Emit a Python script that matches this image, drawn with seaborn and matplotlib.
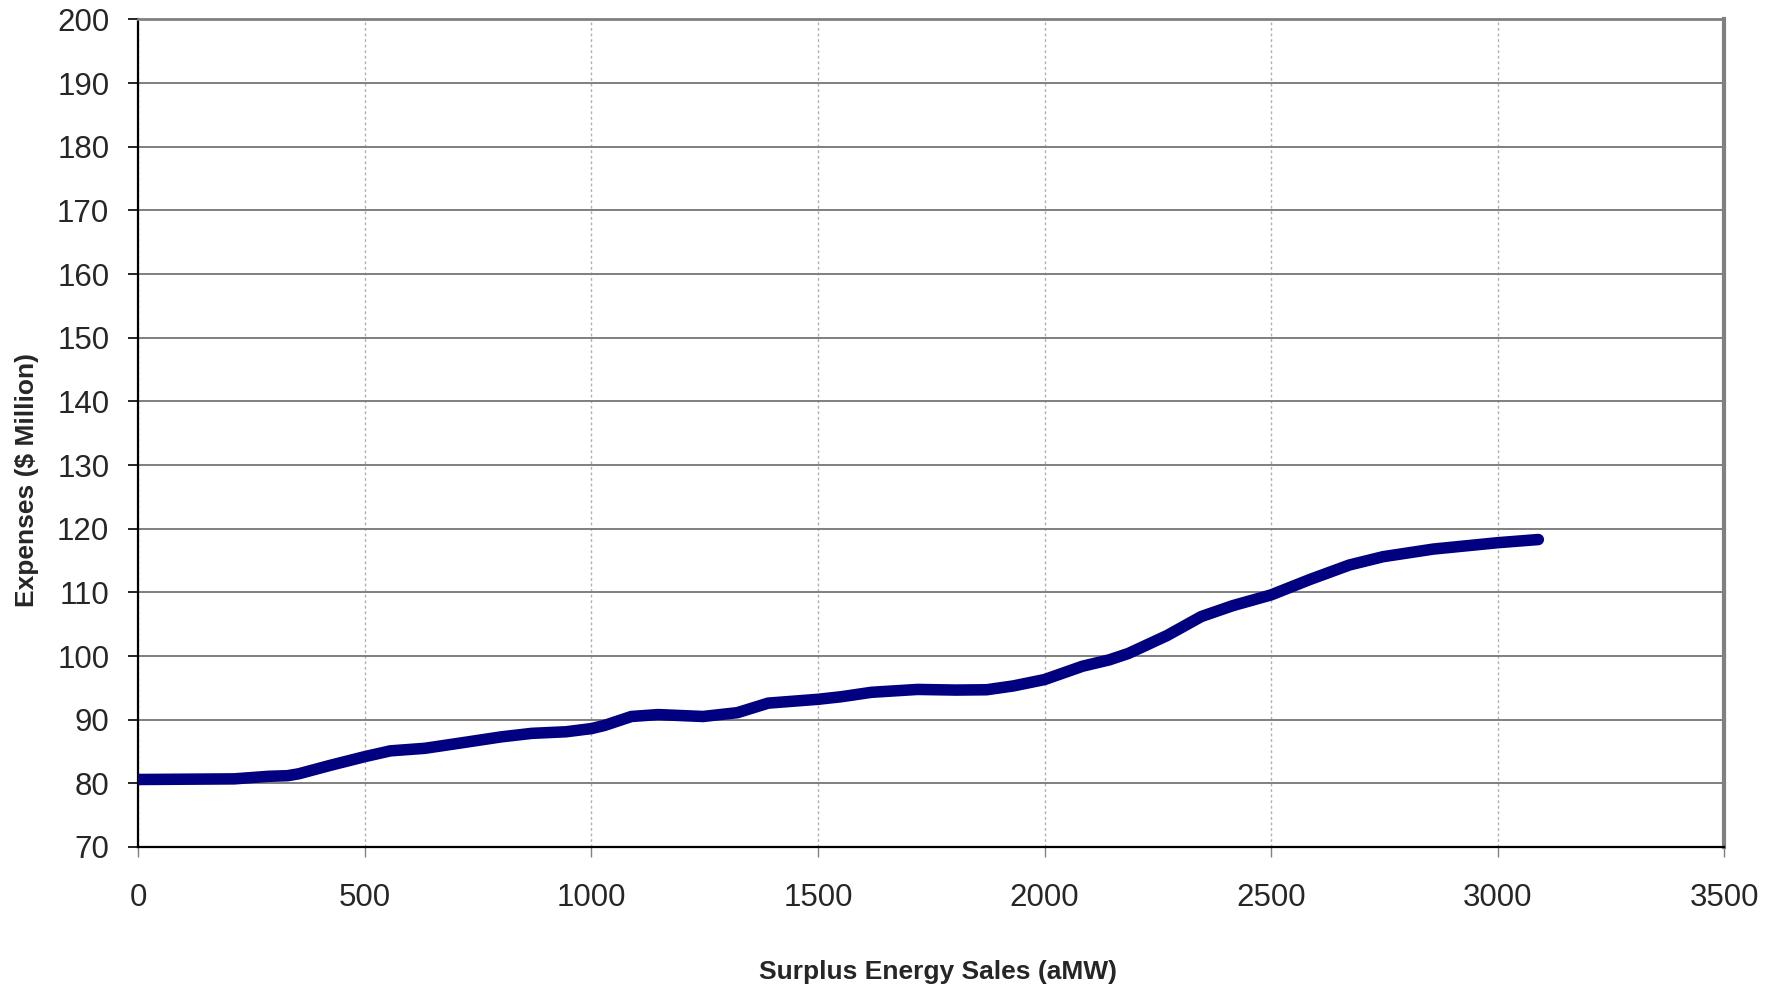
import numpy as np
import pandas as pd
import matplotlib
matplotlib.use("Agg")
import matplotlib.pyplot as plt
import seaborn as sns

# values
sales = [0, 211, 287, 329, 354, 422, 500, 556, 632, 717, 801, 868, 944, 1000, 1029,
         1088, 1147, 1246, 1322, 1390, 1500, 1551, 1618, 1720, 1805, 1872, 1931, 2000,
         2084, 2143, 2185, 2270, 2346, 2415, 2500, 2585, 2673, 2747, 2858, 3000, 3090]
expenses = [80.6, 80.7, 81.1, 81.2, 81.5, 82.8, 84.2, 85.1, 85.5, 86.4, 87.3, 87.85, 88.1, 88.6, 89.1,
            90.5, 90.8, 90.5, 91.1, 92.6, 93.2, 93.6, 94.3, 94.75, 94.65, 94.7, 95.3, 96.3,
            98.4, 99.4, 100.4, 103.2, 106.2, 107.9, 109.6, 112.0, 114.3, 115.6, 116.8, 117.8, 118.3]

x_ticks = [0, 500, 1000, 1500, 2000, 2500, 3000, 3500]
y_ticks = list(range(70, 201, 10))

df = pd.DataFrame({"sales": sales, "expenses": expenses})

sns.set_style("white")
plt.rcParams["font.family"] = ["Liberation Sans", "DejaVu Sans"]

fig = plt.figure(figsize=(17.82, 9.89), dpi=100)
ax = fig.add_axes([0.0777, 0.1436, 0.8898, 0.8367])

sns.lineplot(data=df, x="sales", y="expenses", ax=ax, color="#000080", linewidth=8.3,
             solid_capstyle="round", solid_joinstyle="round", zorder=5)

ax.set_xlim(0, 3500)
ax.set_ylim(70, 200)
ax.set_xticks(x_ticks)
ax.set_yticks(y_ticks)

ax.yaxis.grid(True, color="#7f7f7f", linewidth=1.4, linestyle="-")
ax.xaxis.grid(True, color="#b0b0b0", linewidth=1.0, linestyle=(0, (2, 2)))
ax.set_axisbelow(True)

for side in ["left", "bottom"]:
    ax.spines[side].set_color("black")
    ax.spines[side].set_linewidth(1.6)
ax.spines["top"].set_color("#808080")
ax.spines["top"].set_linewidth(2.0)
ax.spines["right"].set_color("#808080")
ax.spines["right"].set_linewidth(3.0)

ax.tick_params(axis="y", direction="out", length=7, width=1.2, color="black",
               labelsize=22.5, pad=14, left=True)
ax.tick_params(axis="x", direction="out", length=7, width=1.0, color="#808080",
               labelsize=22.5, pad=19, bottom=True)

ax.set_xlabel("Surplus Energy Sales (aMW)", fontsize=19, fontweight="bold", labelpad=0)
ax.set_ylabel(r"Expenses (\$ Million)", fontsize=19, fontweight="bold", labelpad=0)
ax.xaxis.set_label_coords(0.504, -0.137)
ax.yaxis.set_label_coords(-0.063, 0.4435)

fig.savefig("out.png", dpi=100)
